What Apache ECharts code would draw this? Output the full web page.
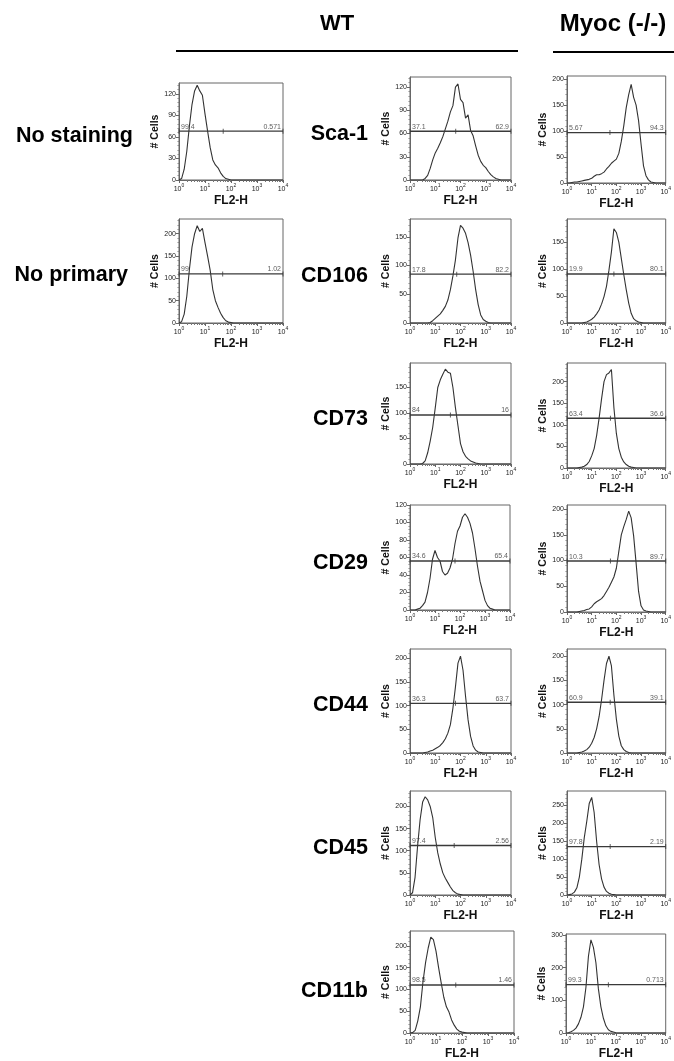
<!DOCTYPE html>
<html><head><meta charset="utf-8">
<script src="https://cdn.jsdelivr.net/npm/echarts@6/dist/echarts.min.js"></script>
<style>html,body{margin:0;padding:0;background:#fff}#c{width:674px;height:1061px}</style>
</head><body><div id="c"></div>
<script>
// log10(FL2-H) positions shared by all histograms
const EXP = [0,0.1,0.2,0.3,0.4,0.5,0.6,0.7,0.8,0.9,1.0,1.1,1.2,1.3,1.4,1.5,1.6,1.7,1.8,1.9,2.0,2.1,2.2,2.3,2.4,2.5,2.6,2.7,2.8,2.9,3.0,3.1,3.2,3.3,3.4,3.5,3.6,3.7,3.8,3.9,4.0];

const NO_STAIN   = [0,2,15,40,75,105,124,132,124,118,92,68,45,28,21,17,10,5,2,1,0, 0,0,0,0,0,0,0,0,0,0,0,0,0,0,0,0,0,0,0,0];
const NO_PRIMARY = [0,3,20,60,120,170,200,218,205,212,180,150,118,75,50,35,22,12,5,2,1, 0,0,0,0,0,0,0,0,0,0,0,0,0,0,0,0,0,0,0,0];
const WT_SCA1    = [0,0,0,0,0,0,2,6,15,26,35,41,48,56,66,76,88,96,120,124,104,100,80,84,64,57,44,32,24,19,16,11,7,4,2,1,0,0,0,0,0];
const KO_SCA1    = [0,0,1,2,2,3,4,5,6,7,9,13,16,16,18,21,27,32,38,42,46,57,80,110,145,170,190,165,150,120,75,33,14,6,2,1,0,0,0,0,0];
const WT_CD106   = [0,0,0,0,0,0,0,0,1,4,8,12,16,22,29,40,58,82,110,148,170,165,156,140,118,90,58,32,14,6,3,1,0,0,0,0,0,0,0,0,0];
const KO_CD106   = [0,0,0,0,0,0,0,1,2,4,7,11,17,24,35,49,68,98,132,175,168,150,120,90,62,37,18,8,4,2,1,0,0,0,0,0,0,0,0,0,0];
const WT_CD73    = [0,0,0,0,0,1,6,22,45,72,110,150,165,176,186,180,178,150,110,75,40,24,15,10,6,4,2,1,0,0,0,0,0,0,0,0,0,0,0,0,0];
const KO_CD73    = [0,0,0,0,0,1,2,4,8,15,28,45,75,115,160,200,216,220,228,140,80,45,25,14,8,4,2,1,0,0,0,0,0,0,0,0,0,0,0,0,0];
const WT_CD29    = [0,0,0,1,2,5,9,20,36,58,68,60,56,44,40,42,48,58,76,90,96,106,110,106,99,88,70,50,33,22,11,5,2,1,0,0,0,0,0,0,0];
const KO_CD29    = [0,0,0,0,0,1,2,3,5,6,10,16,20,23,26,32,40,48,58,68,85,118,150,166,180,196,183,148,95,40,12,4,2,1,0,0,0,0,0,0,0];
const WT_CD44    = [0,0,0,0,0,0,1,2,4,6,9,12,16,22,30,42,60,95,140,190,205,175,120,70,35,15,6,2,1,0,0,0,0,0,0,0,0,0,0,0,0];
const KO_CD44    = [0,0,0,0,0,1,2,4,7,12,20,32,50,75,110,150,185,200,180,120,70,35,15,7,3,1,0,0,0,0,0,0,0,0,0,0,0,0,0,0,0];
const WT_CD45    = [0,5,40,110,170,210,222,215,200,175,130,95,70,50,38,28,18,10,5,2,1, 0,0,0,0,0,0,0,0,0,0,0,0,0,0,0,0,0,0,0,0];
const KO_CD45    = [0,1,3,8,20,50,100,160,205,255,272,230,150,85,45,22,10,5,2,1, 0,0,0,0,0,0,0,0,0,0,0,0,0,0,0,0,0,0,0,0,0];
const WT_CD11B   = [0,1,6,28,60,118,162,195,220,214,188,150,115,82,60,48,30,18,9,4,2,1, 0,0,0,0,0,0,0,0,0,0,0,0,0,0,0,0,0,0,0];
const KO_CD11B   = [0,1,4,8,15,28,48,80,140,235,285,262,215,135,80,45,22,10,5,3,1, 0,0,0,0,0,0,0,0,0,0,0,0,0,0,0,0,0,0,0,0];

const PANEL_COUNTS = [NO_STAIN, NO_PRIMARY, WT_SCA1, KO_SCA1, WT_CD106, KO_CD106, WT_CD73, KO_CD73,
                      WT_CD29, KO_CD29, WT_CD44, KO_CD44, WT_CD45, KO_CD45, WT_CD11B, KO_CD11B];
const Y_MAX   = [135,233,133,206,181,193,198,243,120,208,220,215,235,290,234,303];
const Y_STEP  = [30,50,30,50,50,50,50,50,20,50,50,50,50,50,50,100];
const GATE_Y  = [68,110,63,97,85,91,96,115,56,99,105,105,112,135,110,148];
const GATE_SPLIT = [1.7,1.68,1.81,1.74,1.85,1.9,1.6,1.76,1.8,1.76,1.8,1.75,1.75,1.75,1.76,1.7];
const PCT_LEFT  = ['99.4','99','37.1','5.67','17.8','19.9','84','63.4','34.6','10.3','36.3','60.9','97.4','97.8','98.5','99.3'];
const PCT_RIGHT = ['0.571','1.02','62.9','94.3','82.2','80.1','16','36.6','65.4','89.7','63.7','39.1','2.56','2.19','1.46','0.713'];

const ROW_LABELS = ['Sca-1','CD106','CD73','CD29','CD44','CD45','CD11b'];
const SIDE_LABELS = ['No staining','No primary'];
const GROUPS = ['WT','Myoc (-/-)'];

// layout (plot boxes in px)
const BOX = [
  [179,83,104,97],[179,219,104,104],
  [410,77,101,103],[567,76,101,107],
  [410,219,101,104],[567,219,101,104],
  [410,363,101,101],[567,363,101,105],
  [410,505,100,105],[567,505,101,107],
  [410,649,101,104],[567,649,101,104],
  [410,791,101,104],[567,791,101,104],
  [410,931,104,106],[566,934,104,103]
];
const ROW_Y = [134,276,419,563,705,848,991];

const FONT = '"Liberation Sans", Arial, sans-serif';
const SUP = {0:'0',1:'1',2:'2',3:'3',4:'4'};
const minorX = [];
for (let d = 0; d < 4; d++) for (let k = 2; k <= 9; k++) minorX.push(d + Math.log10(k));

const grid = [], xAxis = [], yAxis = [], series = [];
PANEL_COUNTS.forEach((counts, i) => {
  const [l, t, w, h] = BOX[i];
  grid.push({left: l, top: t, width: w, height: h, show: true, borderColor: '#666', borderWidth: 1});
  xAxis.push({
    type: 'value', gridIndex: i, min: 0, max: 4, interval: 1, position: 'bottom',
    axisLine: {show: true, onZero: false, lineStyle: {color: '#666', width: 1}},
    axisTick: {show: true, length: 3, lineStyle: {color: '#666'}},
    axisLabel: {
      margin: 3, color: '#222',
      formatter: v => '{b|10}{s|' + SUP[v] + '}',
      rich: {b: {fontSize: 7, fontFamily: FONT, lineHeight: 10, verticalAlign: 'bottom'},
             s: {fontSize: 5, fontFamily: FONT, lineHeight: 10, verticalAlign: 'top'}}
    },
    splitLine: {show: false},
    name: 'FL2-H', nameLocation: 'middle', nameGap: 15,
    nameTextStyle: {fontSize: 12, fontWeight: 'bold', color: '#111', fontFamily: FONT}
  });
  xAxis.push({
    type: 'value', gridIndex: i, min: 0, max: 4, position: 'bottom',
    axisLine: {show: false}, axisLabel: {show: false}, splitLine: {show: false},
    axisTick: {show: true, length: 2, customValues: minorX, lineStyle: {color: '#777'}}
  });
  const ticks = [];
  for (let v = 0; v <= Y_MAX[i]; v += Y_STEP[i]) ticks.push(v);
  yAxis.push({
    type: 'value', gridIndex: i, min: 0, max: Y_MAX[i], interval: Y_STEP[i],
    axisLine: {show: true, lineStyle: {color: '#666', width: 1}},
    axisTick: {show: true, length: 3, customValues: ticks, lineStyle: {color: '#666'}},
    minorTick: {show: true, splitNumber: 5, length: 1.5, lineStyle: {color: '#888'}},
    axisLabel: {customValues: ticks, fontSize: 7, margin: 3, color: '#222', fontFamily: FONT},
    splitLine: {show: false},
    name: '# Cells', nameLocation: 'middle', nameRotate: 90, nameGap: 15,
    nameTextStyle: {fontSize: 10.5, fontWeight: 'bold', color: '#111', fontFamily: FONT}
  });
  series.push({
    type: 'line', xAxisIndex: 2 * i, yAxisIndex: i, showSymbol: false, symbol: 'none',
    data: EXP.map((e, k) => [e, counts[k]]),
    lineStyle: {color: '#333', width: 1.1}, silent: true, z: 3
  });
  series.push({
    type: 'line', xAxisIndex: 2 * i, yAxisIndex: i, symbol: 'none',
    data: [[0, GATE_Y[i]], [4, GATE_Y[i]]],
    lineStyle: {color: '#3a3a3a', width: 1.4}, silent: true, z: 4
  });
  series.push({
    type: 'scatter', xAxisIndex: 2 * i, yAxisIndex: i, symbol: 'rect', symbolSize: [1, 5],
    itemStyle: {color: '#3a3a3a'}, silent: true, z: 5,
    data: [[0, GATE_Y[i]], [GATE_SPLIT[i], GATE_Y[i]], [4, GATE_Y[i]]]
  });
  series.push({
    type: 'scatter', xAxisIndex: 2 * i, yAxisIndex: i, symbolSize: 0, silent: true, z: 6,
    data: [
      {value: [0, GATE_Y[i]], label: {show: true, formatter: PCT_LEFT[i], position: 'top', align: 'left', offset: [2, 0], distance: 1, fontSize: 7, color: '#333', fontFamily: FONT}},
      {value: [4, GATE_Y[i]], label: {show: true, formatter: PCT_RIGHT[i], position: 'top', align: 'right', offset: [-2, 0], distance: 1, fontSize: 7, color: '#333', fontFamily: FONT}}
    ]
  });
});

const graphic = [];
const bigFont = 'bold 21.5px ' + FONT;
function txt(x, y, text, font, align) {
  return {type: 'text', x, y, style: {text, font, fill: '#000', textAlign: align, textVerticalAlign: 'middle', align, verticalAlign: 'middle'}};
}
graphic.push(txt(337, 24, GROUPS[0], 'bold 22px ' + FONT, 'center'));
graphic.push(txt(613, 24, GROUPS[1], 'bold 24px ' + FONT, 'center'));
graphic.push({type: 'line', shape: {x1: 176, y1: 51, x2: 518, y2: 51}, style: {stroke: '#000', lineWidth: 2}});
graphic.push({type: 'line', shape: {x1: 553, y1: 52, x2: 674, y2: 52}, style: {stroke: '#000', lineWidth: 2}});
ROW_LABELS.forEach((t, r) => graphic.push(txt(368, ROW_Y[r], t, bigFont, 'right')));
graphic.push(txt(133, 136, SIDE_LABELS[0], bigFont, 'right'));
graphic.push(txt(128, 275, SIDE_LABELS[1], bigFont, 'right'));

const chart = echarts.init(document.getElementById('c'), null, {renderer: 'canvas'});
chart.setOption({
  animation: false, backgroundColor: '#fff',
  textStyle: {fontFamily: FONT},
  grid, xAxis, yAxis, series, graphic
});
</script></body></html>
